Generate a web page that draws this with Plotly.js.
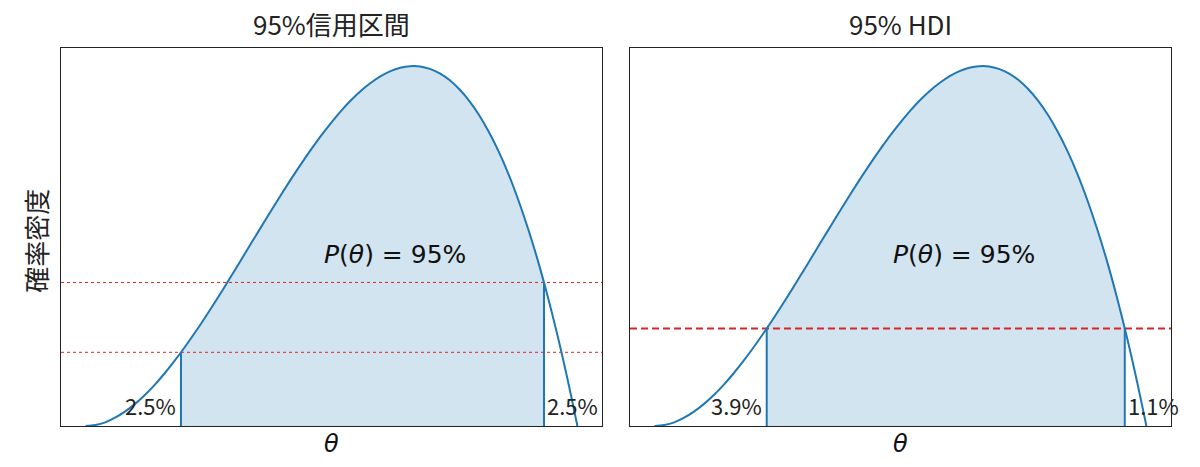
<!DOCTYPE html>
<html>
<head>
<meta charset="utf-8">
<script src="https://cdn.plot.ly/plotly-3.0.1.min.js"></script>
<style>
  html, body { margin: 0; padding: 0; background: #ffffff; }
  #chart { width: 1200px; height: 467px; }
</style>
</head>
<body>
<div id="chart"></div>
<script>
// ---- data ----
const theta = [0.00,0.02,0.04,0.06,0.08,0.10,0.12,0.14,0.16,0.18,0.20,0.22,0.24,0.26,0.28,0.30,0.32,0.34,0.36,0.38,0.40,0.42,0.44,0.46,0.48,0.50,0.52,0.54,0.56,0.58,0.60,0.62,0.64,0.66,0.68,0.70,0.72,0.74,0.76,0.78,0.80,0.82,0.84,0.86,0.88,0.90,0.92,0.94,0.96,0.98,1.00];
const density = [0.000,0.005,0.018,0.041,0.071,0.108,0.152,0.202,0.258,0.319,0.384,0.453,0.525,0.600,0.677,0.756,0.836,0.916,0.995,1.074,1.152,1.228,1.301,1.371,1.438,1.500,1.558,1.610,1.656,1.695,1.728,1.753,1.769,1.777,1.776,1.764,1.742,1.709,1.663,1.606,1.536,1.452,1.355,1.243,1.115,0.972,0.813,0.636,0.442,0.230,0.000];

const panelTitles = ["95%信用区間", "95% HDI"];
const intervalBounds = [[0.194, 0.932], [0.228, 0.956]];
const boundDensity = [[0.364, 0.709], [0.482, 0.482]];
const tailLabels = [["2.5%", "2.5%"], ["3.9%", "1.1%"]];
const centerLabel = "<i>P</i>(<i>θ</i>) = 95%";
const xLabel = "<i>θ</i>";
const yLabel = "確率密度";
const xRange = [-0.05, 1.05];
const yRange = [0, 1.867];

const blue = "#1f77b4";
const red = "#d62728";
const jp = "Noto Sans CJK JP, sans-serif";
const dv = "DejaVu Sans, sans-serif";

const traces = [];
const annotations = [];

for (let p = 0; p < 2; p++) {
  const xa = p === 0 ? "x" : "x2";
  const ya = p === 0 ? "y" : "y2";
  const [lo, hi] = intervalBounds[p];
  const [dLo, dHi] = boundDensity[p];

  // filled interval
  const fx = [lo], fy = [dLo];
  for (let i = 0; i < theta.length; i++) {
    if (theta[i] > lo && theta[i] < hi) { fx.push(theta[i]); fy.push(density[i]); }
  }
  fx.push(hi); fy.push(dHi);
  traces.push({
    x: fx, y: fy, xaxis: xa, yaxis: ya, type: "scatter", mode: "lines",
    line: {width: 0, shape: "spline", color: blue},
    fill: "tozeroy", fillcolor: "rgba(31,119,180,0.2)",
    hoverinfo: "skip", showlegend: false
  });

  // horizontal reference lines
  if (p === 0) {
    for (const lvl of boundDensity[0]) {
      traces.push({
        x: xRange, y: [lvl, lvl], xaxis: xa, yaxis: ya, type: "scatter", mode: "lines",
        line: {color: red, width: 1, dash: "dot"}, showlegend: false, hoverinfo: "skip"
      });
    }
  } else {
    traces.push({
      x: xRange, y: [dLo, dLo], xaxis: xa, yaxis: ya, type: "scatter", mode: "lines",
      line: {color: red, width: 2, dash: "7px,4px"}, showlegend: false, hoverinfo: "skip"
    });
  }

  // density curve
  traces.push({
    x: theta, y: density, xaxis: xa, yaxis: ya, type: "scatter", mode: "lines",
    line: {color: blue, width: 2, shape: "spline"}, showlegend: false
  });

  // vertical bound lines
  traces.push({
    x: [lo, lo], y: [0, dLo], xaxis: xa, yaxis: ya, type: "scatter", mode: "lines",
    line: {color: blue, width: 2}, showlegend: false, hoverinfo: "skip"
  });
  traces.push({
    x: [hi, hi], y: [0, dHi], xaxis: xa, yaxis: ya, type: "scatter", mode: "lines",
    line: {color: blue, width: 2}, showlegend: false, hoverinfo: "skip"
  });

  // tail labels
  annotations.push({
    xref: xa, yref: ya, x: lo, y: 0, xanchor: "right", yanchor: "bottom",
    xshift: -3, yshift: 3, text: tailLabels[p][0], showarrow: false,
    font: {family: jp, size: 22, color: "#222"}
  });
  annotations.push({
    xref: xa, yref: ya, x: hi, y: 0, xanchor: "left", yanchor: "bottom",
    xshift: 1, yshift: 3, text: tailLabels[p][1], showarrow: false,
    font: {family: jp, size: 22, color: "#222"}
  });

  // center label
  annotations.push({
    xref: xa, yref: ya, x: 0.63, y: 0.845, xanchor: "center", yanchor: "middle",
    text: centerLabel, showarrow: false, font: {family: dv, size: 25, color: "#111"}
  });

  // panel title
  annotations.push({
    xref: xa + " domain", yref: "paper", x: 0.5, y: 1, xanchor: "center", yanchor: "bottom",
    yshift: 4, text: panelTitles[p], showarrow: false, font: {family: jp, size: 26, color: "#222"}
  });

  // x label
  annotations.push({
    xref: xa + " domain", yref: "paper", x: 0.5, y: 0, xanchor: "center", yanchor: "top",
    yshift: -2, text: xLabel, showarrow: false, font: {family: dv, size: 24, color: "#111"}
  });
}

// y label
annotations.push({
  xref: "paper", yref: "paper", x: 0, y: 0.49, xanchor: "center", yanchor: "middle",
  xshift: -25, textangle: -90, text: yLabel, showarrow: false,
  font: {family: jp, size: 26, color: "#222"}
});

const axisCommon = {
  showgrid: false, zeroline: false, showticklabels: false, ticks: "",
  showline: true, mirror: true, linecolor: "#222", linewidth: 1, fixedrange: true
};

const layout = {
  width: 1200, height: 467,
  margin: {l: 61, r: 29, t: 48, b: 41},
  paper_bgcolor: "#ffffff", plot_bgcolor: "#ffffff",
  showlegend: false,
  xaxis: Object.assign({}, axisCommon, {domain: [0, 0.4874], range: xRange}),
  yaxis: Object.assign({}, axisCommon, {range: yRange}),
  xaxis2: Object.assign({}, axisCommon, {domain: [0.5126, 1], range: xRange, anchor: "y2"}),
  yaxis2: Object.assign({}, axisCommon, {range: yRange, anchor: "x2"}),
  annotations: annotations
};

Plotly.newPlot("chart", traces, layout, {displayModeBar: false, staticPlot: true});
</script>
</body>
</html>
